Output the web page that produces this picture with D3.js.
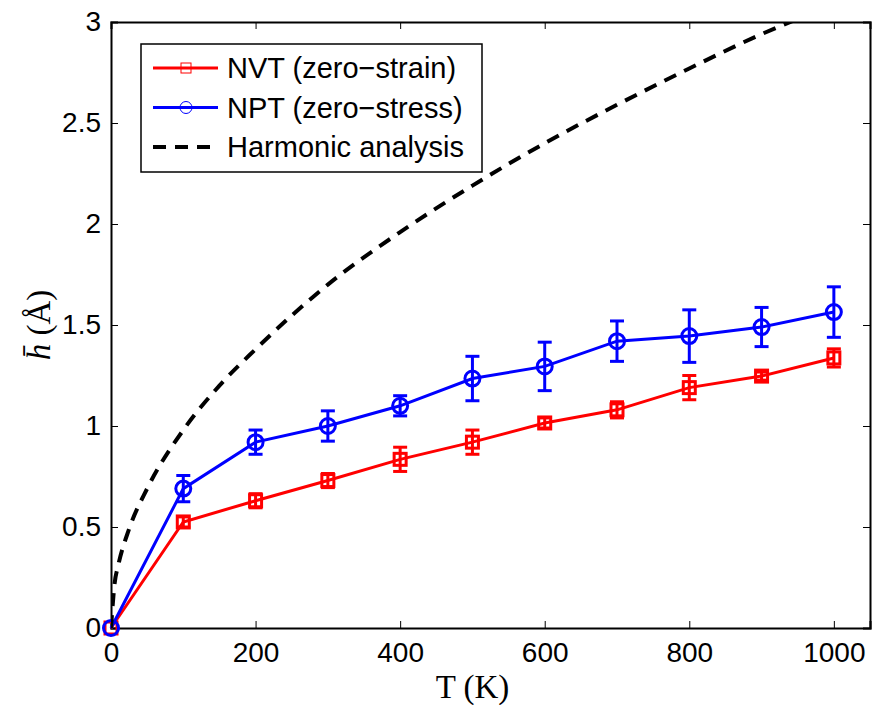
<!DOCTYPE html>
<html>
<head>
<meta charset="utf-8">
<script src="https://cdn.jsdelivr.net/npm/d3@7"></script>
<style>
  body { margin: 0; background: #fff; }
  svg { display: block; }
</style>
</head>
<body>
<div id="chart"></div>
<script>
// temperatures (K)
var temps = [0, 100, 200, 300, 400, 500, 600, 700, 800, 900, 1000];
// NVT (zero-strain), mean and error
var nvt = [0, 0.525, 0.63, 0.73, 0.835, 0.92, 1.015, 1.08, 1.19, 1.247, 1.337];
var nvtErr = [0, 0.025, 0.035, 0.035, 0.06, 0.06, 0.025, 0.04, 0.06, 0.02, 0.045];
// NPT (zero-stress)
var npt = [0, 0.69, 0.92, 1.0, 1.1, 1.235, 1.295, 1.42, 1.445, 1.49, 1.564];
var nptErr = [0, 0.065, 0.06, 0.075, 0.05, 0.11, 0.12, 0.1, 0.13, 0.097, 0.125];
// harmonic analysis curve
var harmT = [0, 5, 10, 25, 50, 100, 150, 200, 300, 400, 500, 600, 700, 800, 900, 960];
var harmH = [0, 0.22, 0.31, 0.49, 0.69, 0.98, 1.2, 1.38, 1.7, 1.96, 2.19, 2.4, 2.59, 2.77, 2.94, 3.03];

var xTicks = [0, 200, 400, 600, 800, 1000];
var yTicks = [0, 0.5, 1, 1.5, 2, 2.5, 3];

var W = 872, H = 705;
var margin = {top: 22, right: 2, bottom: 77, left: 111},
    width = W - margin.left - margin.right,
    height = H - margin.top - margin.bottom;

var svg = d3.select("#chart").append("svg")
    .attr("width", W).attr("height", H);

var g = svg.append("g")
    .attr("transform", "translate(" + margin.left + "," + margin.top + ")");

var x = d3.scaleLinear().domain([0, 1050]).range([0, width]);
var y = d3.scaleLinear().domain([0, 3]).range([height, 0]);

var tickFont = "'Liberation Sans', Arial, sans-serif";
var serif = "'Liberation Serif', 'DejaVu Serif', serif";

// axes with inward ticks
var xAxis = g.append("g").attr("transform", "translate(0," + height + ")")
    .call(d3.axisBottom(x).tickValues(xTicks).tickSize(-7).tickPadding(14).tickFormat(d3.format("d")));
var xTop = g.append("g")
    .call(d3.axisTop(x).tickValues(xTicks).tickSize(-7).tickFormat(""));
var yAxis = g.append("g")
    .call(d3.axisLeft(y).tickValues(yTicks).tickSize(-7).tickPadding(10).tickFormat(function(d){ return d; }));
var yRight = g.append("g").attr("transform", "translate(" + width + ",0)")
    .call(d3.axisRight(y).tickValues(yTicks).tickSize(-7).tickFormat(""));

[xAxis, xTop, yAxis, yRight].forEach(function(a) {
    a.select(".domain").attr("stroke", "#000").attr("stroke-width", 2);
    a.selectAll(".tick line").attr("stroke", "#000").attr("stroke-width", 1);
    a.selectAll("text").attr("fill", "#000")
        .style("font-family", tickFont).style("font-size", "28px");
});

// clip for the harmonic curve
g.append("clipPath").attr("id", "clip")
    .append("rect").attr("width", width).attr("height", height);

var line = d3.line().x(function(d){ return x(d[0]); }).y(function(d){ return y(d[1]); });

function series(vals, errs, color, marker) {
    var pts = temps.map(function(t, i){ return [t, vals[i], errs[i]]; });
    var s = g.append("g");
    s.append("path").datum(pts).attr("d", line)
        .attr("fill", "none").attr("stroke", color).attr("stroke-width", 3);
    var eb = s.selectAll(".eb").data(pts.filter(function(d){ return d[2] > 0; })).enter().append("g");
    eb.append("line")
        .attr("x1", function(d){ return x(d[0]); }).attr("x2", function(d){ return x(d[0]); })
        .attr("y1", function(d){ return y(d[1] - d[2]); }).attr("y2", function(d){ return y(d[1] + d[2]); })
        .attr("stroke", color).attr("stroke-width", 3);
    [-1, 1].forEach(function(sg) {
        eb.append("line")
            .attr("x1", function(d){ return x(d[0]) - 7; }).attr("x2", function(d){ return x(d[0]) + 7; })
            .attr("y1", function(d){ return y(d[1] + sg * d[2]); }).attr("y2", function(d){ return y(d[1] + sg * d[2]); })
            .attr("stroke", color).attr("stroke-width", 3);
    });
    if (marker === "square") {
        s.selectAll(".m").data(pts).enter().append("rect")
            .attr("x", function(d){ return x(d[0]) - 6; }).attr("y", function(d){ return y(d[1]) - 6; })
            .attr("width", 12).attr("height", 12)
            .attr("fill", "none").attr("stroke", color).attr("stroke-width", 3);
    } else {
        s.selectAll(".m").data(pts).enter().append("circle")
            .attr("cx", function(d){ return x(d[0]); }).attr("cy", function(d){ return y(d[1]); })
            .attr("r", 7.5)
            .attr("fill", "none").attr("stroke", color).attr("stroke-width", 3);
    }
}

series(nvt, nvtErr, "#ff0000", "square");
series(npt, nptErr, "#0000ff", "circle");

g.append("path")
    .datum(harmT.map(function(t, i){ return [t, harmH[i]]; }))
    .attr("clip-path", "url(#clip)")
    .attr("d", line.curve(d3.curveMonotoneX))
    .attr("fill", "none").attr("stroke", "#000").attr("stroke-width", 4)
    .attr("stroke-dasharray", "13,9");

// legend
var leg = svg.append("g").attr("transform", "translate(141,44)");
leg.append("rect").attr("width", 341).attr("height", 128)
    .attr("fill", "#fff").attr("stroke", "#000").attr("stroke-width", 1.5);
var items = [
    {label: "NVT (zero\u2212strain)", color: "#ff0000", marker: "square", dash: null},
    {label: "NPT (zero\u2212stress)", color: "#0000ff", marker: "circle", dash: null},
    {label: "Harmonic analysis", color: "#000", marker: null, dash: "13,9"}
];
items.forEach(function(it, i) {
    var cy = 24 + i * 39.5;
    leg.append("line").attr("x1", 12).attr("x2", 77).attr("y1", cy).attr("y2", cy)
        .attr("stroke", it.color).attr("stroke-width", it.dash ? 4 : 3)
        .attr("stroke-dasharray", it.dash);
    if (it.marker === "square") {
        leg.append("rect").attr("x", 40).attr("y", cy - 5).attr("width", 10).attr("height", 10)
            .attr("fill", "none").attr("stroke", it.color).attr("stroke-width", 1);
    } else if (it.marker === "circle") {
        leg.append("circle").attr("cx", 45).attr("cy", cy).attr("r", 6)
            .attr("fill", "none").attr("stroke", it.color).attr("stroke-width", 1);
    }
    leg.append("text").attr("x", 86).attr("y", cy + 10)
        .style("font-family", tickFont).style("font-size", "29px")
        .text(it.label);
});

// axis labels
svg.append("text")
    .attr("x", margin.left + x(525) - 18).attr("y", 698)
    .attr("text-anchor", "middle")
    .style("font-family", serif).style("font-size", "33px")
    .text("T (K)");

svg.append("text")
    .attr("transform", "translate(50," + (margin.top + y(1.5)) + ") rotate(-90)")
    .attr("text-anchor", "middle")
    .style("font-family", serif).style("font-size", "33px")
    .html("<tspan font-style='italic'>h\u0304</tspan> (Å)");
</script>
</body>
</html>
